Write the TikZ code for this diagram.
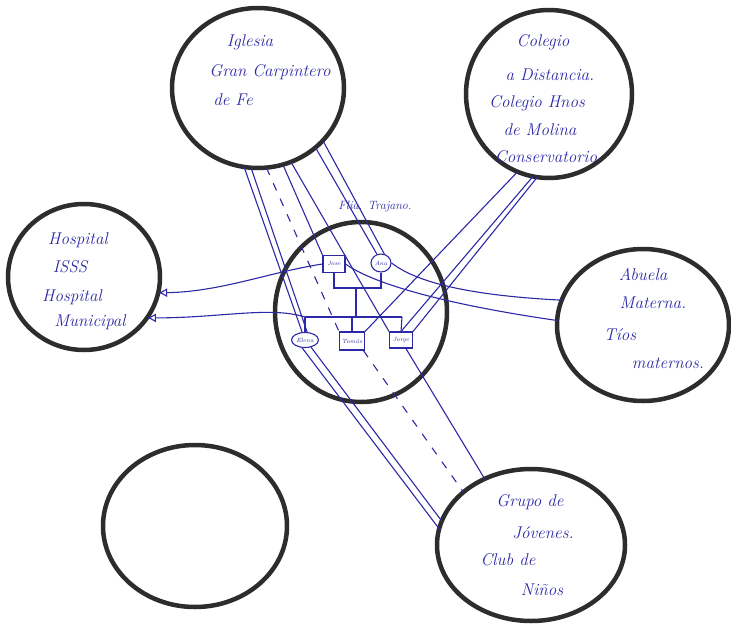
\documentclass[tikz,border=0pt]{standalone}
\usetikzlibrary{shapes.geometric,arrows.meta}
\definecolor{ink}{RGB}{45,40,165}
\definecolor{ring}{RGB}{45,45,45}
\tikzset{
  sys/.style={ellipse,draw=ring,line width=4.5pt,inner sep=0pt,outer sep=0pt},
  hand/.style={text=ink,font=\fontsize{17}{20}\selectfont\itshape,inner sep=0pt},
  small/.style={text=ink,font=\fontsize{6}{7}\selectfont\itshape,inner sep=0pt},
  male/.style={rectangle,draw=ink,line width=1.1pt,inner sep=0pt},
  female/.style={ellipse,draw=ink,line width=1.1pt,inner sep=0pt},
  tie/.style={draw=ink,line width=1.1pt},
  dashtie/.style={draw=ink,line width=1.1pt,dash pattern=on 8pt off 9pt},
  arr/.style={tie,-{Latex[open,length=9pt,width=9pt]}}
}
\begin{document}
\begin{tikzpicture}[x=1pt,y=-1pt]
\useasboundingbox (0,0) rectangle (731,624);
% systems
\node[sys,minimum width=172,minimum height=160] (igl) at (258,88) {};
\node[sys,minimum width=166,minimum height=168] (col) at (549,94) {};
\node[sys,minimum width=152,minimum height=146] (hosp) at (84,277) {};
\node[sys,minimum width=172,minimum height=152] (abu) at (643,325) {};
\node[sys,minimum width=172,minimum height=180] (fam) at (361,312) {};
\node[sys,minimum width=184,minimum height=162] (empty) at (195,526) {};
\node[sys,minimum width=188,minimum height=152] (grp) at (531,545) {};
% texts
\node[hand] (t1) at (250,42) {Iglesia};
\node[hand] (t2) at (270,72) {Gran Carpintero};
\node[hand] (t3) at (233,100) {de Fe};
\node[hand] (c1) at (543,42) {Colegio};
\node[hand] (c2) at (550,75) {a Distancia.};
\node[hand] (c3) at (537,103) {Colegio Hnos};
\node[hand] (c4) at (540,130) {de Molina};
\node[hand] (c5) at (546,157) {Conservatorio};
\node[hand] (h1) at (78,240) {Hospital};
\node[hand] (h2) at (70,267) {ISSS};
\node[hand] (h3) at (72,297) {Hospital};
\node[hand] (h4) at (90,322) {Municipal};
\node[hand] (a1) at (643,275) {Abuela};
\node[hand] (a2) at (653,303) {Materna.};
\node[hand] (a3) at (620,335) {Tíos};
\node[hand] (a4) at (668,363) {maternos.};
\node[hand] (g1) at (530,502) {Grupo de};
\node[hand] (g2) at (543,533) {Jóvenes.};
\node[hand] (g3) at (508,560) {Club de};
\node[hand] (g4) at (542,590) {Niños};
\node[hand,font=\fontsize{12}{14}\selectfont\itshape] (flia) at (375,207) {Flia. Trajano.};
% family
\node[male,minimum width=22,minimum height=17] (jose) at (334,264) {};
\node[small] (jl) at (334,264) {Jose};
\node[female,minimum width=20,minimum height=18] (ana) at (381,263) {};
\node[small] (al) at (381,263) {Ana};
\node[female,minimum width=27,minimum height=15] (elena) at (305,340) {};
\node[small] (el) at (305,340) {Elena};
\node[male,minimum width=25,minimum height=18] (tomas) at (352,341) {};
\node[small] (tl) at (352,341) {Tomás};
\node[male,minimum width=23,minimum height=16] (jorge) at (401,340) {};
\node[small] (gl) at (401,340) {Jorge};
\coordinate (mL) at (334,288);
\coordinate (mR) at (381,288);
\coordinate (mC) at (356,288);
\coordinate (sC) at (356,317);
\coordinate (sL) at (305,317);
\coordinate (sR) at (402,317);
\coordinate (sM) at (352,317);
\draw[tie] (jose.south) -- (mL) -- (mR) -- (ana.south);
\draw[tie] (mC) -- (sC);
\draw[tie] (sL) -- (sR);
\draw[tie] (sL) -- (elena.north);
\draw[tie] (sM) -- (tomas.north);
\draw[tie] (sR) -- (jorge.north);
% hospital
\draw[arr] (jose.west) .. controls (270,272) and (220,292) .. (hosp.-12);
\draw[arr] (sL) .. controls (270,306) and (220,318) .. (hosp.-33);
% abuela
\draw[tie] (ana.east) .. controls (420,285) and (480,296) .. (abu.163);
\draw[tie] (jose.east) .. controls (375,285) and (450,305) .. (abu.177);
% colegio
\draw[tie] (col.-112) -- (tomas.north east);
\draw[tie] (col.-101) -- (jorge.north);
\draw[tie] (col.-98) -- (jorge.north east);
% iglesia
\draw[tie] (igl.-100) -- (elena.110);
\draw[tie] (igl.-95) -- (elena.75);
\draw[dashtie] (igl.-84) -- (tomas.north west);
\draw[tie] (igl.-72) -- (jose.north west);
\draw[tie] (igl.-66) -- (jorge.north west);
\draw[tie] (igl.-46) -- (ana.115);
\draw[tie] (igl.-39) -- (ana.70);
% grupo
\draw[tie] (elena.-110) -- (grp.170);
\draw[tie] (elena.-50) -- (grp.165);
\draw[dashtie] (tomas.-40) -- (grp.142);
\draw[tie] (jorge.-60) -- (grp.125);
\end{tikzpicture}
\end{document}
